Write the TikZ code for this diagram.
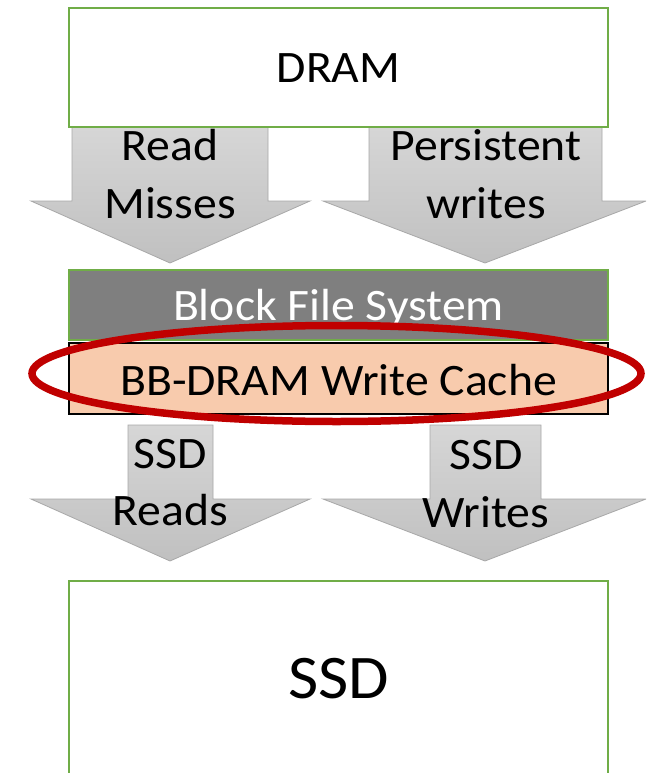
\documentclass[tikz,border=0pt]{standalone}
\usepackage{fontspec}
\setmainfont{Carlito}[FakeStretch=1.06]
\usetikzlibrary{shapes.geometric}
\definecolor{boxgreen}{HTML}{70AD47}
\definecolor{arrowedge}{HTML}{A8A8A8}
\definecolor{arrowtop}{HTML}{D6D6D6}
\definecolor{arrowbot}{HTML}{C0C0C0}
\definecolor{fsgray}{HTML}{7F7F7F}
\definecolor{cachepeach}{HTML}{F8CBAD}
\definecolor{ringred}{HTML}{C00000}
\tikzset{
  layerbox/.style={draw=boxgreen, line width=2pt, fill=white, minimum width=539pt, inner sep=0pt},
  blockarrow/.style={draw=arrowedge, line width=0.8pt, top color=arrowtop, bottom color=arrowbot},
  lbl/.style={anchor=base, inner sep=0pt, font=\fontsize{45}{52}\selectfont},
}
\begin{document}
\begin{tikzpicture}[x=1pt, y=-1pt]
  \clip (0,0) rectangle (646,773);
  \useasboundingbox (0,0) rectangle (646,773);
  \fill[white] (0,0) rectangle (646,773);

  % block arrows between the layers
  \draw[blockarrow] (72,127) -- (268,127) -- (268,201) -- (310,201) -- (170,263)
        -- (31,201) -- (72,201) -- cycle;
  \draw[blockarrow] (369,127) -- (602,127) -- (602,201) -- (646,201) -- (485,263)
        -- (323,201) -- (369,201) -- cycle;
  \draw[blockarrow] (128,425) -- (213,425) -- (213,499) -- (310,499) -- (170,561)
        -- (31,499) -- (128,499) -- cycle;
  \draw[blockarrow] (430,425) -- (541,425) -- (541,499) -- (646,499) -- (485,561)
        -- (323,499) -- (430,499) -- cycle;

  % layers
  \node[layerbox, minimum height=119pt] (dram) at (338.5,67.5) {};
  \node[lbl] (dramtxt) at (338.5,83) {DRAM};

  \node[layerbox, fill=fsgray, minimum height=70pt] (bfs) at (338.5,305) {};
  \node[lbl, text=white] (bfstxt) at (338.5,320) {Block File System};

  \node[draw=black, line width=2pt, fill=cachepeach, minimum width=539pt,
        minimum height=71pt, inner sep=0pt] (bbc) at (338.5,378.5) {};
  \node[lbl] (bbctxt) at (338.5,395) {BB-DRAM Write Cache};

  \node[layerbox, minimum height=220pt] (ssd) at (338.5,691) {};
  \node[lbl, font=\fontsize{62}{70}\selectfont] (ssdtxt) at (338.5,698) {SSD};

  % arrow labels
  \node[lbl] (rm1) at (170,160) {Read};
  \node[lbl] (rm2) at (170,218) {Misses};
  \node[lbl] (pw1) at (486,160) {Persistent};
  \node[lbl] (pw2) at (486,218) {writes};
  \node[lbl] (sr1) at (170,468) {SSD};
  \node[lbl] (sr2) at (170,525) {Reads};
  \node[lbl] (sw1) at (486,469) {SSD};
  \node[lbl] (sw2) at (486,527) {Writes};

  % highlight ring round the write cache
  \node[ellipse, draw=ringred, line width=7.5pt, minimum width=609pt,
        minimum height=96pt, inner sep=0pt] (ring) at (336.5,373.5) {};
\end{tikzpicture}
\end{document}
